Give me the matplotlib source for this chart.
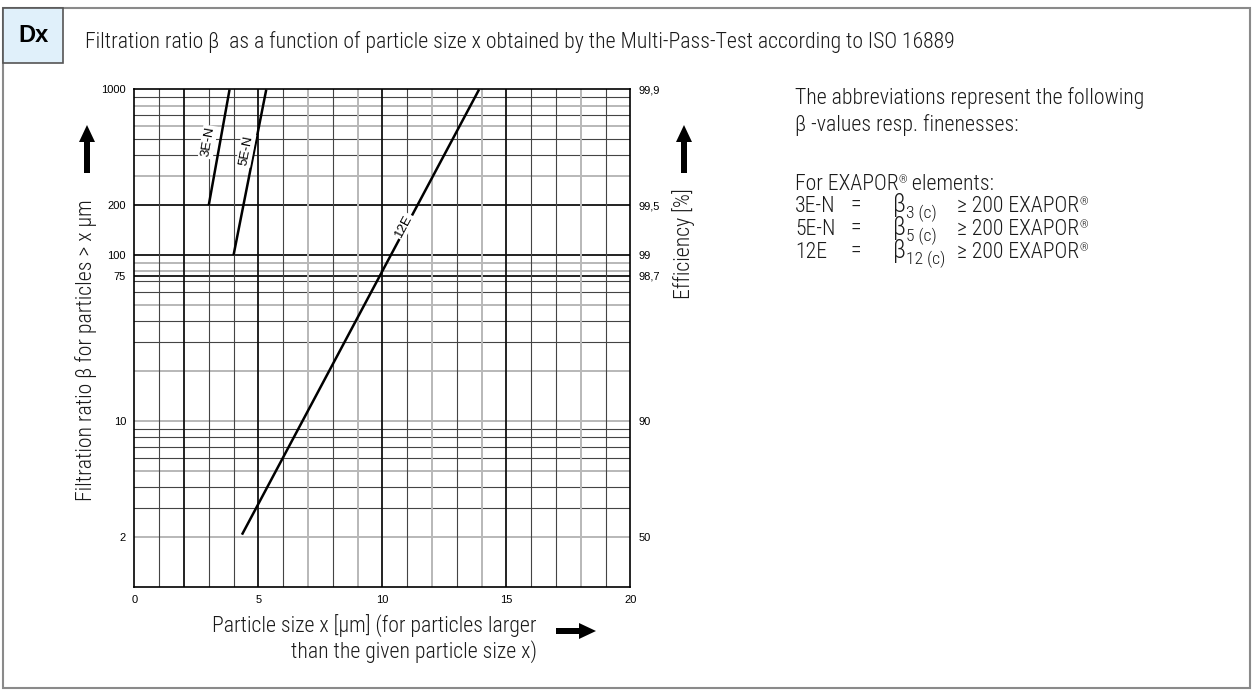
import matplotlib

matplotlib.use("Agg")
import matplotlib.pyplot as plt
from matplotlib import font_manager as fm
from matplotlib.patches import Rectangle, FancyArrow
from matplotlib.ticker import NullLocator, FixedLocator

# --- data --------------------------------------------------------------------
x_3en = [3.0, 3.84]
beta_3en = [200, 1000]
x_5en = [4.0, 5.32]
beta_5en = [100, 1000]
x_12e = [4.34, 13.9]
beta_12e = [2.06, 1000]

beta_ticks = [2, 10, 75, 100, 200, 1000]
beta_labels = ["2", "10", "75", "100", "200", "1000"]
eff_labels = ["50", "90", "98,7", "99", "99,5", "99,9"]
x_ticks = [0, 5, 10, 15, 20]

row_names = ["3E-N", "5E-N", "12E"]
row_subs = ["3 (c)", "5 (c)", "12 (c)"]

# grid lines of the chart paper
GRID_Y_BOLD = [200, 100, 75]
GRID_Y_GRAY = [800, 600, 300, 90, 80, 50, 20, 10, 5, 2]
GRID_Y_DARK = [900, 700, 500, 400, 70, 60, 40, 30, 9, 8, 7, 6, 4, 3]
GRID_X_BOLD = [2, 5, 10, 15]
GRID_X_GRAY = [7, 9, 12, 14, 18]
GRID_X_DARK = [1, 3, 4, 6, 8, 11, 13, 16, 17, 19]

# pick a condensed family for the body text (Frutiger Condensed look-alike)
available = {f.name for f in fm.fontManager.ttflist}
light = {f.name for f in fm.fontManager.ttflist if f.weight == 300}
CANDIDATES = ["Roboto Condensed", "PT Sans Narrow", "Archivo Narrow", "Fira Sans Condensed",
              "IBM Plex Sans Condensed", "Open Sans Condensed", "Encode Sans Condensed",
              "Asap Condensed", "Barlow Condensed", "Liberation Sans"]
cond = next((c for c in CANDIDATES if c in available), "DejaVu Sans")
NARROW = [cond, "DejaVu Sans"]
WEIGHT = 300 if cond in light else "normal"
ARIAL = ["Liberation Sans", "DejaVu Sans"]
TXT = "#1a1a1a"

fig = plt.figure(figsize=(12.53, 6.92), dpi=100)

# background layer in pixel coordinates
bg = fig.add_axes([0, 0, 1, 1])
bg.set_xlim(0, 1253)
bg.set_ylim(692, 0)
bg.axis("off")

# size the body font so the x label line spans the same width as the reference
probe = bg.text(0, 0, "Particle size x [\u00b5m] (for particles larger", family=NARROW,
                weight=WEIGHT, fontsize=10)
fig.canvas.draw()
FS = 10 * 325 / probe.get_window_extent().width
probe.remove()

body = dict(family=NARROW, weight=WEIGHT, fontsize=FS, color=TXT)

bg.add_patch(Rectangle((3, 8), 1247, 680, fill=False, ec="#8a8a8a", lw=1.5))
bg.add_patch(Rectangle((3, 8), 60, 55, fc="#e0f0fa", ec="#555555", lw=1.2))
bg.text(33, 36, "Dx", family=ARIAL, weight="bold", fontsize=17, ha="center", va="center")
bg.text(85, 48, "Filtration ratio \u03b2  as a function of particle size x obtained by the "
        "Multi-Pass-Test according to ISO 16889", ha="left", va="baseline", **body)

arrow_kw = dict(width=6, head_width=16, head_length=17, length_includes_head=True,
                color="black", lw=0)
bg.add_patch(FancyArrow(87, 173, 0, -48, **arrow_kw))
bg.add_patch(FancyArrow(684, 173, 0, -48, **arrow_kw))
bg.add_patch(FancyArrow(556, 631, 40, 0, **arrow_kw))

bg.text(86, 350, "Filtration ratio \u03b2 for particles > x \u00b5m", rotation=90,
        ha="center", va="center", **body)
bg.text(684, 244, "Efficiency [%]", rotation=90, ha="center", va="center", **body)
bg.text(537, 633, "Particle size x [\u00b5m] (for particles larger", ha="right",
        va="baseline", **body)
bg.text(537, 658, "than the given particle size x)", ha="right", va="baseline", **body)


def run_text(x, y, parts):
    """Write text pieces one after another on a common baseline."""
    inv = bg.transData.inverted()
    for txt, scale, dy in parts:
        t = bg.text(x, y + dy, txt, family=NARROW, weight=WEIGHT, fontsize=FS * scale,
                    ha="left", va="baseline", color=TXT)
        fig.canvas.draw()
        bb = t.get_window_extent()
        x = inv.transform((bb.x1, bb.y0))[0]
    return x


bg.text(795, 104, "The abbreviations represent the following", ha="left",
        va="baseline", **body)
bg.text(795, 131, "\u03b2 -values resp. finenesses:", ha="left", va="baseline", **body)
run_text(795, 190, [("For EXAPOR", 1.0, 0), ("\u00ae", 0.5, -7), (" elements:", 1.0, 0)])
for i, (name, sub) in enumerate(zip(row_names, row_subs)):
    yb = 212 + i * 23
    bg.text(795, yb, name, ha="left", va="baseline", **body)
    bg.text(850, yb, "=", ha="left", va="baseline", **body)
    run_text(893, yb, [("\u03b2", 1.15, 0), (sub, 0.8, 6)])
    run_text(957, yb, [("\u2265 200 EXAPOR", 1.0, 0), ("\u00ae", 0.5, -7)])

# --- the chart ---------------------------------------------------------------
ax = fig.add_axes([0.1072, 0.1522, 0.3959, 0.7185])
ax.set_yscale("log")
ax.set_xlim(0, 20)
ax.set_ylim(1, 1000)
ax.yaxis.set_minor_locator(NullLocator())
ax.xaxis.set_minor_locator(NullLocator())

for v in GRID_Y_GRAY:
    ax.axhline(v, color="#b8b8b8", lw=1.4, zorder=1)
for v in GRID_Y_DARK:
    ax.axhline(v, color="#444444", lw=0.8, zorder=1)
for v in GRID_Y_BOLD:
    ax.axhline(v, color="#111111", lw=1.3, zorder=1)
for v in GRID_X_GRAY:
    ax.axvline(v, color="#b8b8b8", lw=1.4, zorder=1)
for v in GRID_X_DARK:
    ax.axvline(v, color="#444444", lw=0.8, zorder=1)
for v in GRID_X_BOLD:
    ax.axvline(v, color="#111111", lw=1.3, zorder=1)

for xs, ys in [(x_3en, beta_3en), (x_5en, beta_5en), (x_12e, beta_12e)]:
    ax.plot(xs, ys, color="black", lw=1.8, zorder=3, solid_capstyle="butt")

lbl_kw = dict(family=ARIAL, fontsize=9.5, ha="center", va="center", zorder=4,
              bbox=dict(fc="white", ec="none", pad=1.0))
ax.text(2.97, 482, "3E-N", rotation=80, **lbl_kw)
ax.text(4.50, 431, "5E-N", rotation=79, **lbl_kw)
ax.text(10.85, 150, "12E", rotation=62, **lbl_kw)

ax.yaxis.set_major_locator(FixedLocator(beta_ticks))
ax.set_yticklabels(beta_labels)
ax.set_xticks(x_ticks)
ax.tick_params(length=0, pad=6, labelsize=8)
for lab in ax.get_xticklabels() + ax.get_yticklabels():
    lab.set_family(ARIAL)
for sp in ax.spines.values():
    sp.set_color("black")
    sp.set_linewidth(1.2)

ax2 = ax.twinx()
ax2.set_yscale("log")
ax2.set_ylim(1, 1000)
ax2.yaxis.set_minor_locator(NullLocator())
ax2.yaxis.set_major_locator(FixedLocator(beta_ticks))
ax2.set_yticklabels(eff_labels)
ax2.tick_params(length=0, pad=6, labelsize=8)
for lab in ax2.get_yticklabels():
    lab.set_family(ARIAL)
for sp in ax2.spines.values():
    sp.set_visible(False)

fig.savefig("out.png", dpi=100)
